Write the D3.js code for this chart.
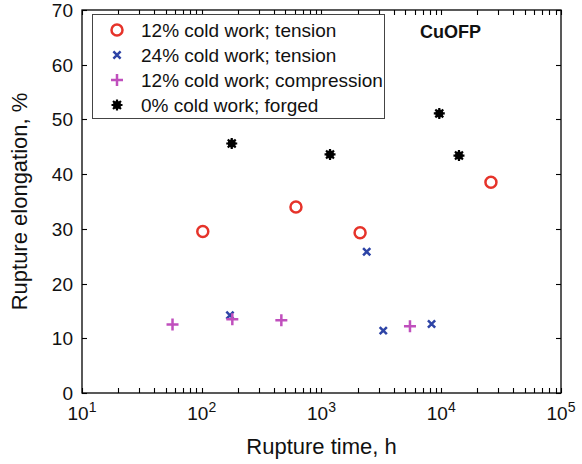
<!DOCTYPE html>
<html>
<head>
<meta charset="utf-8">
<script src="https://cdn.jsdelivr.net/npm/d3@7"></script>
<style>
  html, body { margin: 0; padding: 0; background: #fff; }
  svg { display: block; font-family: "Liberation Sans", Arial, sans-serif; }
</style>
</head>
<body>
<svg id="chart" width="582" height="464"></svg>
<script>
// Rupture time (h) and rupture elongation (%) for CuOFP creep specimens
const tension12Time = [102, 612, 2100, 26000];
const tension12Elong = [29.5, 34.0, 29.3, 38.5];

const tension24Time = [172, 2385, 3280, 8300];
const tension24Elong = [14.2, 25.8, 11.4, 12.6];

const compression12Time = [57, 180, 462, 5480];
const compression12Elong = [12.5, 13.5, 13.3, 12.2];

const forged0Time = [178, 1178, 9630, 14060];
const forged0Elong = [45.6, 43.6, 51.1, 43.4];

const seriesNames = [
  "12% cold work; tension",
  "24% cold work; tension",
  "12% cold work; compression",
  "0% cold work; forged"
];
const xTickExponents = [1, 2, 3, 4, 5];
const yTicks = [0, 10, 20, 30, 40, 50, 60, 70];

const colors = ["#e6332a", "#2e44a6", "#c04fbd", "#000000"];

const svg = d3.select("#chart");
const plot = { left: 82, right: 561, top: 10, bottom: 393 };

const x = d3.scaleLog().domain([10, 1e5]).range([plot.left, plot.right]);
const y = d3.scaleLinear().domain([0, 70]).range([plot.bottom, plot.top]);

// frame
svg.append("rect")
  .attr("x", plot.left).attr("y", plot.top)
  .attr("width", plot.right - plot.left).attr("height", plot.bottom - plot.top)
  .attr("fill", "none").attr("stroke", "#000").attr("stroke-width", 1.3);

// log ticks: majors and minors, drawn inward on bottom and top
const logTicks = [];
for (let e = 1; e < 5; e++) for (let m = 1; m < 10; m++) logTicks.push(m * Math.pow(10, e));
logTicks.push(1e5);
const tickLen = 5;
const tg = svg.append("g").attr("stroke", "#000").attr("stroke-width", 1.1);
logTicks.forEach(v => {
  const px = Math.round(x(v)) + 0.5;
  tg.append("line").attr("x1", px).attr("x2", px).attr("y1", plot.bottom).attr("y2", plot.bottom - tickLen);
  tg.append("line").attr("x1", px).attr("x2", px).attr("y1", plot.top).attr("y2", plot.top + tickLen);
});
yTicks.forEach(v => {
  const py = Math.round(y(v)) + 0.5;
  tg.append("line").attr("x1", plot.left).attr("x2", plot.left + tickLen).attr("y1", py).attr("y2", py);
  tg.append("line").attr("x1", plot.right).attr("x2", plot.right - tickLen).attr("y1", py).attr("y2", py);
});

// y tick labels
svg.append("g").selectAll("text").data(yTicks).join("text")
  .attr("x", plot.left - 9).attr("y", d => y(d) + 7)
  .attr("text-anchor", "end").attr("font-size", 19).attr("fill", "#111")
  .text(d => d);

// x tick labels as powers of ten
const xl = svg.append("g");
xTickExponents.forEach(e => {
  const t = xl.append("text")
    .attr("x", x(Math.pow(10, e))).attr("y", 420)
    .attr("text-anchor", "middle").attr("font-size", 19).attr("fill", "#111");
  t.append("tspan").text("10");
  t.append("tspan").attr("dy", -8).attr("font-size", 14).text(e);
});

// axis titles
svg.append("text")
  .attr("x", (plot.left + plot.right) / 2).attr("y", 454)
  .attr("text-anchor", "middle").attr("font-size", 22).attr("fill", "#111")
  .text("Rupture time, h");
svg.append("text")
  .attr("transform", `translate(27,${(plot.top + plot.bottom) / 2}) rotate(-90)`)
  .attr("text-anchor", "middle").attr("font-size", 22).attr("fill", "#111")
  .text("Rupture elongation, %");

svg.append("text")
  .attr("x", 420).attr("y", 38)
  .attr("font-size", 18).attr("font-weight", "bold").attr("fill", "#111")
  .text("CuOFP");

// marker painters
function drawCircle(g, cx, cy, c) {
  g.append("circle").attr("cx", cx).attr("cy", cy).attr("r", 5.5)
    .attr("fill", "none").attr("stroke", c).attr("stroke-width", 2.5);
}
function drawCross(g, cx, cy, c) {
  const s = 3.6;
  g.append("path").attr("d", `M${cx - s},${cy - s}L${cx + s},${cy + s}M${cx - s},${cy + s}L${cx + s},${cy - s}`)
    .attr("stroke", c).attr("stroke-width", 2.5).attr("fill", "none");
}
function drawPlus(g, cx, cy, c) {
  const s = 6;
  g.append("path").attr("d", `M${cx - s},${cy}L${cx + s},${cy}M${cx},${cy - s}L${cx},${cy + s}`)
    .attr("stroke", c).attr("stroke-width", 2.5).attr("fill", "none");
}
function drawStar(g, cx, cy, c) {
  const s = 5.5;
  const d = s * 0.72;
  g.append("circle").attr("cx", cx).attr("cy", cy).attr("r", 4).attr("fill", c);
  g.append("path").attr("d",
    `M${cx - s},${cy}L${cx + s},${cy}M${cx},${cy - s}L${cx},${cy + s}` +
    `M${cx - d},${cy - d}L${cx + d},${cy + d}M${cx - d},${cy + d}L${cx + d},${cy - d}`)
    .attr("stroke", c).attr("stroke-width", 2.2).attr("fill", "none");
}
const painters = [drawCircle, drawCross, drawPlus, drawStar];
const seriesData = [
  [tension12Time, tension12Elong],
  [tension24Time, tension24Elong],
  [compression12Time, compression12Elong],
  [forged0Time, forged0Elong]
];

// draw forged first so the other markers sit above it; compression over tension 24%
const order = [3, 0, 1, 2];
const mg = svg.append("g");
order.forEach(i => {
  const [ts, es] = seriesData[i];
  ts.forEach((t, k) => painters[i](mg, x(t), y(es[k]), colors[i]));
});

// legend
const lg = svg.append("g");
lg.append("rect").attr("x", 92.5).attr("y", 14.5).attr("width", 292).attr("height", 104)
  .attr("fill", "#fff").attr("stroke", "#444").attr("stroke-width", 1);
seriesNames.forEach((name, i) => {
  const cy = 30 + i * 25;
  painters[i](lg, 117, cy, colors[i]);
  lg.append("text").attr("x", 141).attr("y", cy + 7)
    .attr("font-size", 19).attr("fill", "#111").text(name);
});
</script>
</body>
</html>
